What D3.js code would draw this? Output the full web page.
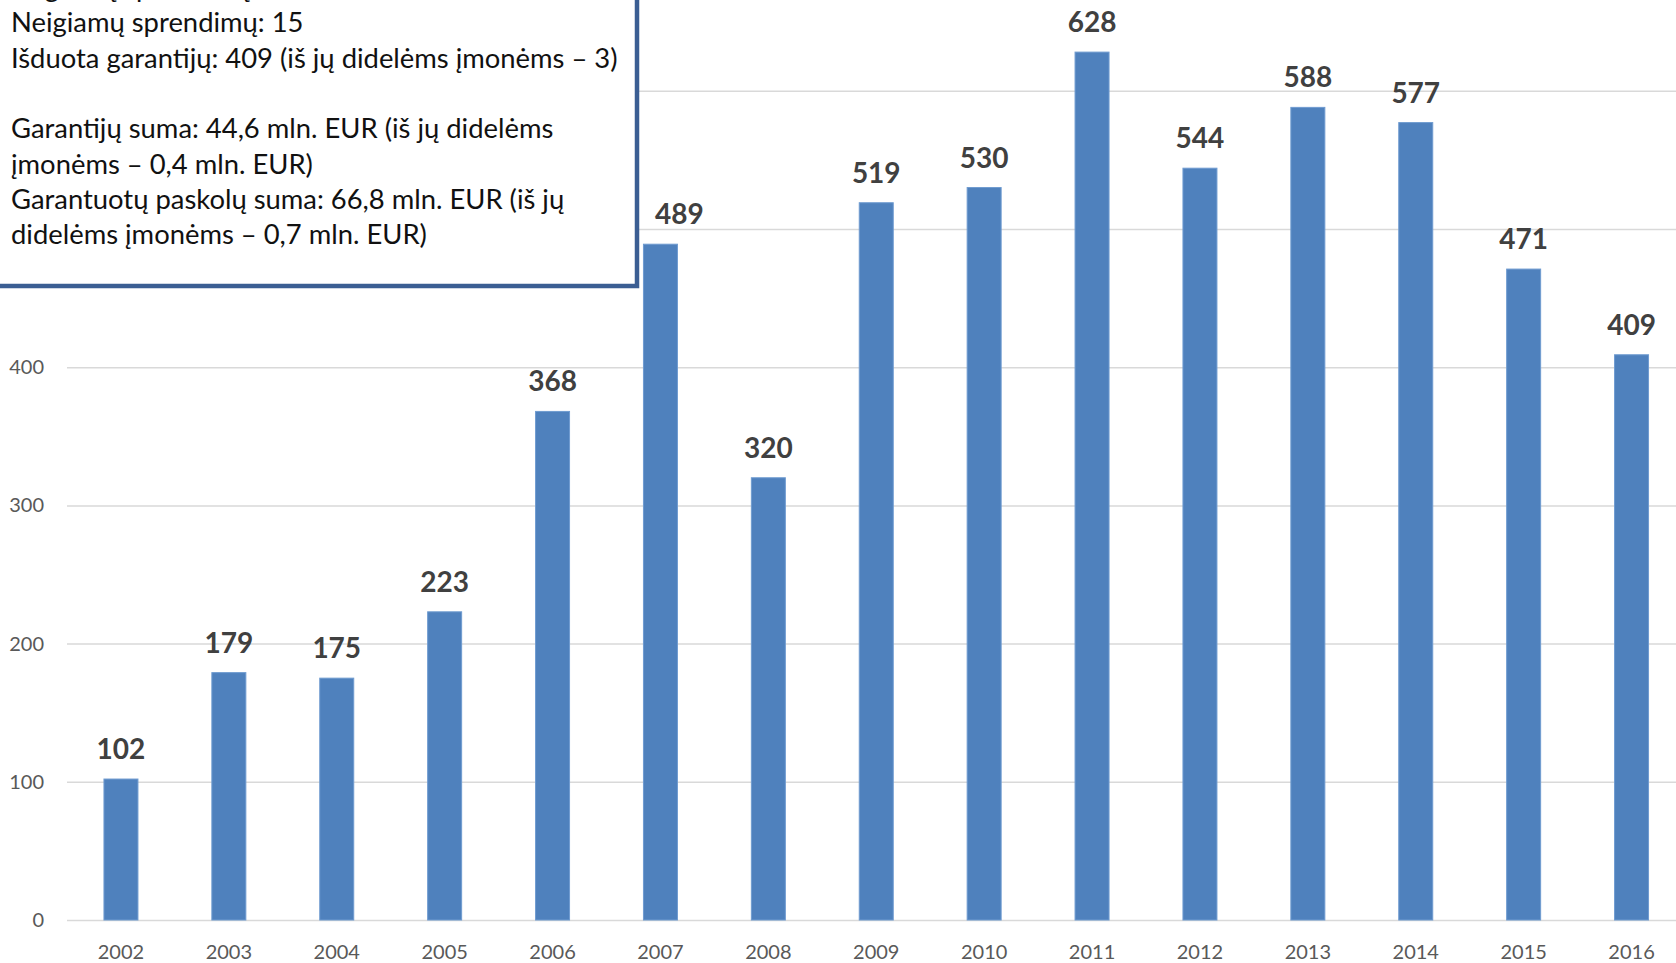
<!DOCTYPE html>
<html>
<head>
<meta charset="utf-8">
<script src="https://cdn.jsdelivr.net/npm/d3@7"></script>
<style>
  html, body { margin: 0; padding: 0; background: #fff; overflow: hidden; }
  svg { display: block; }
</style>
</head>
<body>
<div id="chart"></div>
<script>
// Data
const years = ['2002', '2003', '2004', '2005', '2006', '2007', '2008', '2009',
               '2010', '2011', '2012', '2013', '2014', '2015', '2016'];
const guarantees = [102, 179, 175, 223, 368, 489, 320, 519, 530, 628, 544, 588, 577, 471, 409];
const yTicks = [0, 100, 200, 300, 400, 500, 600, 700];
const noteLines = [
  'Teigiamų sprendimų: 424',
  'Neigiamų sprendimų: 15',
  'Išduota garantijų: 409 (iš jų didelėms įmonėms – 3)',
  null,
  'Garantijų suma: 44,6 mln. EUR (iš jų didelėms',
  'įmonėms – 0,4 mln. EUR)',
  'Garantuotų paskolų suma: 66,8 mln. EUR (iš jų',
  'didelėms įmonėms – 0,7 mln. EUR)'
];

const W = 1676, H = 963;
const fontFam = 'Lato, "Open Sans", sans-serif';

const svg = d3.select('#chart').append('svg')
  .attr('width', W)
  .attr('height', H);

// Scales (plot runs off the right and top edge like the cropped original)
const x = d3.scaleBand()
  .domain(years)
  .range([67, 67 + 15 * 107.9])
  .paddingInner(0.685)
  .paddingOuter(0.3425);

const y = d3.scaleLinear()
  .domain([0, 700])
  .range([920, 920 - 967.4]);

// Gridlines
svg.append('g')
  .attr('class', 'grid')
  .attr('transform', 'translate(67,0)')
  .call(d3.axisLeft(y).tickValues(yTicks).tickSize(-(W + 20)).tickFormat(''))
  .call(g => g.select('.domain').remove())
  .call(g => g.selectAll('line').attr('stroke', '#d9d9d9').attr('stroke-width', 1.5));

// Y axis labels
svg.append('g')
  .attr('transform', 'translate(44,0)')
  .call(d3.axisLeft(y).tickValues(yTicks).tickSize(0).tickPadding(0))
  .call(g => g.select('.domain').remove())
  .call(g => g.selectAll('text')
    .attr('fill', '#595959')
    .attr('font-family', fontFam)
    .attr('font-size', 20));

// X axis labels
svg.append('g')
  .attr('transform', 'translate(0,920)')
  .call(d3.axisBottom(x).tickSize(0).tickPadding(25))
  .call(g => g.select('.domain').remove())
  .call(g => g.selectAll('text')
    .attr('fill', '#595959')
    .attr('font-family', fontFam)
    .attr('font-size', 20));

// Bars
svg.append('g').selectAll('rect')
  .data(guarantees)
  .join('rect')
  .attr('x', (d, i) => x(years[i]))
  .attr('width', x.bandwidth())
  .attr('y', d => y(d))
  .attr('height', d => y(0) - y(d))
  .attr('fill', '#4f81bd')
  .attr('stroke', '#6f9bd0')
  .attr('stroke-width', 1);

// Note box in the top-left corner
const boxRight = 637, boxBottom = 286;
const note = svg.append('g');
note.append('rect')
  .attr('x', -20)
  .attr('y', -80)
  .attr('width', boxRight + 20)
  .attr('height', boxBottom + 80)
  .attr('fill', '#fff')
  .attr('stroke', '#3b5e93')
  .attr('stroke-width', 4.5);

// one entry per line slot, the null slot is the empty line
note.selectAll('text')
  .data(noteLines.map((t, i) => ({ t, i })).filter(d => d.t))
  .join('text')
  .attr('x', 11)
  .attr('y', d => -3 + d.i * 35.3)
  .attr('font-family', fontFam)
  .attr('font-size', 27.4)
  .attr('fill', '#111')
  .text(d => d.t);

// Value labels, nudged right when they would sit on the note box
const labels = svg.append('g').selectAll('text')
  .data(guarantees)
  .join('text')
  .attr('x', (d, i) => x(years[i]) + x.bandwidth() / 2)
  .attr('y', d => y(d) - 20)
  .attr('text-anchor', 'middle')
  .attr('font-family', fontFam)
  .attr('font-weight', 700)
  .attr('font-size', 28)
  .attr('fill', '#404040')
  .text(d => d);

labels.each(function () {
  const b = this.getBBox();
  if (b.y < boxBottom && b.x < boxRight + 16 && b.x + b.width > boxRight - 200) {
    const shift = boxRight + 18 - b.x;
    d3.select(this).attr('x', +d3.select(this).attr('x') + shift);
  }
});
</script>
</body>
</html>
